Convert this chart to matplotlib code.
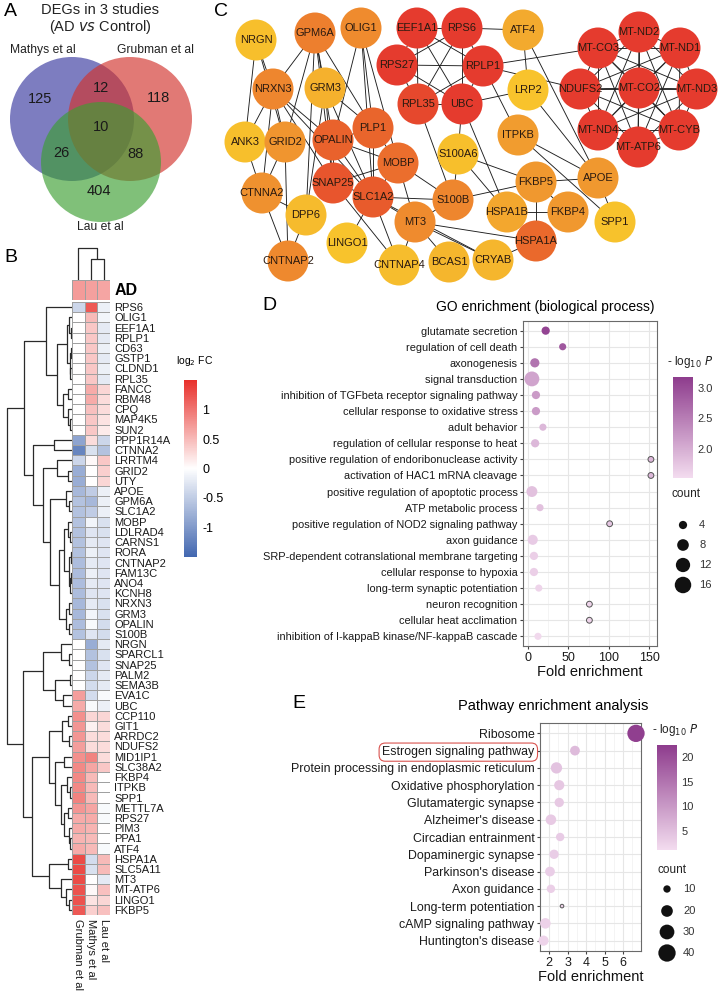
import numpy as np
import matplotlib
matplotlib.use("Agg")
import matplotlib.pyplot as plt
from matplotlib.patches import Circle
from matplotlib.colors import LinearSegmentedColormap, Normalize
from matplotlib.cm import ScalarMappable
from matplotlib.ticker import MultipleLocator

plt.rcParams['font.family'] = ['Liberation Sans', 'DejaVu Sans']

W, H = 719, 992

# ---------------- data ----------------
# A: Venn counts
venn_sets = ['Mathys et al', 'Grubman et al', 'Lau et al']
venn_counts = {'M': 125, 'G': 118, 'L': 404, 'MG': 12, 'ML': 26, 'GL': 88, 'MGL': 10}

# B: heatmap (log2 FC)
studies = ['Grubman et al', 'Mathys et al', 'Lau et al']
genes = ['RPS6', 'OLIG1', 'EEF1A1', 'RPLP1', 'CD63', 'GSTP1', 'CLDND1', 'RPL35', 'FANCC',
         'RBM48', 'CPQ', 'MAP4K5', 'SUN2', 'PPP1R14A', 'CTNNA2', 'LRRTM4', 'GRID2', 'UTY',
         'APOE', 'GPM6A', 'SLC1A2', 'MOBP', 'LDLRAD4', 'CARNS1', 'RORA', 'CNTNAP2', 'FAM13C',
         'ANO4', 'KCNH8', 'NRXN3', 'GRM3', 'OPALIN', 'S100B', 'NRGN', 'SPARCL1', 'SNAP25',
         'PALM2', 'SEMA3B', 'EVA1C', 'UBC', 'CCP110', 'GIT1', 'ARRDC2', 'NDUFS2', 'MID1IP1',
         'SLC38A2', 'FKBP4', 'ITPKB', 'SPP1', 'METTL7A', 'RPS27', 'PIM3', 'PPA1', 'ATF4',
         'HSPA1A', 'SLC5A11', 'MT3', 'MT-ATP6', 'LINGO1', 'FKBP5']
grubman_fc = [-0.4, 0, 0, 0, 0, 0, 0, 0, 0, 0, 0, 0, 0, -0.9, -1.2, -0.4, -0.8, -0.8,
              -0.7, -0.6, -0.6, -0.6, -0.6, -0.6, -0.6, -0.65, -0.65, -0.65, -0.65, -0.7, -0.7, -0.65, -0.6,
              0, 0, 0, 0, 0, 0.7, 0.6, 0.8, 0.75, 0.75, 0.7, 0.8, 0.85, 0.85, 0.85, 0.9, 0.75,
              0.6, 0.6, 0.55, 0.6, 1.3, 1.3, 1.3, 1.25, 1.25, 1.2]
mathys_fc = [1.2, 0.5, 0.4, 0.4, 0.4, 0.4, 0.4, 0.4, 0.6, 0.6, 0.45, 0.4, 0.4, 0.25, -0.3, 0.05, 0, 0,
             -0.5, -0.7, -0.5, -0.1, -0.25, -0.2, -0.15, -0.2, -0.15, -0.2, -0.25, -0.2, -0.1, -0.05, -0.25,
             -0.8, -0.6, -0.6, -0.4, -0.35, -0.35, -0.05, 0.3, 0.1, 0.25, 0.25, 0.9, 0.65, 0.5, 0.5, 0.5, 0.65,
             0.6, 0.55, 0.5, 0.5, -0.35, -0.3, 0, 0.05, 0.2, 0.35]
lau_fc = [-0.15, -0.1, -0.2, -0.2, -0.15, -0.2, -0.15, -0.2, 0.3, 0.25, 0.25, 0.2, 0.15, -0.4, -0.6, 0.4, 0.35, 0.3,
          -0.15, -0.15, -0.15, -0.3, -0.3, -0.25, -0.25, -0.25, -0.25, -0.25, -0.25, -0.3, -0.3, -0.35, -0.35,
          -0.2, -0.3, -0.25, -0.2, -0.2, -0.05, -0.15, 0.3, 0.25, 0.25, 0.25, 0.25, 0.4, 0, 0, 0, -0.05,
          -0.05, 0, 0, -0.05, 0.5, 0.5, -0.2, 0.45, 0.3, 0.45]
ad_fc = [0.72, 0.68, 0.65]

# row dendrogram as nested (left, right, height); leaves are row indices
row_tree = (
    ((0, ((((1, (2, 3, 1.5), 3), ((4, 5, 1.5), (6, 7, 2), 2.5), 5),
           ((8, 9, 4), (10, (11, 12, 2), 4), 9), 15)), 26),
     ((13, 14, 18),
      ((15, (16, 17, 4), 15),
       ((18, (19, 20, 3), 6),
        (((21, (22, 23, 2), 4), ((24, 25, 1.5), ((26, 27, 1), 28, 2.5), 3.5), 8),
         ((29, 30, 3), (31, 32, 3), 6), 13), 22), 29), 39), 48),
    (((33, (34, 35, 3), 11), ((36, 37, 2), (38, 39, 9), 17), 29),
     ((((40, 41, 4), (42, 43, 3), 10),
       ((44, 45, 8), ((46, (47, 48, 2), 5), ((49, 50, 4), (51, (52, 53, 2), 3), 8), 11), 17), 23),
      ((54, 55, 4), (56, (57, (58, 59, 3), 6), 11), 23), 40), 49),
    65)
col_tree = (0, (1, 2, 21), 32)

# C: network
net_nodes = ['NRGN', 'GPM6A', 'OLIG1', 'EEF1A1', 'RPS6', 'ATF4', 'MT-ND2', 'MT-CO3', 'MT-ND1',
             'RPS27', 'RPLP1', 'NRXN3', 'GRM3', 'LRP2', 'NDUFS2', 'MT-CO2', 'MT-ND3', 'RPL35',
             'UBC', 'ANK3', 'GRID2', 'OPALIN', 'PLP1', 'ITPKB', 'MT-ND4', 'MT-CYB', 'MT-ATP6',
             'S100A6', 'MOBP', 'CTNNA2', 'SNAP25', 'SLC1A2', 'S100B', 'FKBP5', 'APOE', 'DPP6',
             'MT3', 'HSPA1B', 'FKBP4', 'SPP1', 'LINGO1', 'HSPA1A', 'CNTNAP2', 'CNTNAP4', 'BCAS1',
             'CRYAB']
net_score = [0.05, 0.5, 0.42, 1, 1, 0.2, 1, 1, 1,
             1, 1, 0.45, 0.15, 0.02, 1, 1, 1, 0.9,
             1, 0.05, 0.35, 0.7, 0.68, 0.3, 1, 1, 1,
             0.05, 0.62, 0.38, 0.8, 0.75, 0.45, 0.33, 0.33, 0.08,
             0.42, 0.22, 0.33, 0.03, 0.02, 0.65, 0.43, 0.07, 0.12,
             0.12]
mt_group = ['MT-ND2', 'MT-CO3', 'MT-ND1', 'NDUFS2', 'MT-CO2', 'MT-ND3', 'MT-ND4', 'MT-CYB', 'MT-ATP6']
ribo_group = ['EEF1A1', 'RPS6', 'RPS27', 'RPLP1', 'RPL35', 'UBC']
net_edges = [('RPS6', 'ATF4'), ('RPLP1', 'MT-CO3'), ('RPLP1', 'NDUFS2'), ('RPLP1', 'ITPKB'),
             ('UBC', 'LRP2'), ('ATF4', 'LRP2'), ('ATF4', 'APOE'), ('LRP2', 'APOE'), ('ITPKB', 'APOE'),
             ('ITPKB', 'SPP1'), ('APOE', 'SPP1'), ('APOE', 'FKBP5'), ('FKBP5', 'S100A6'),
             ('FKBP5', 'FKBP4'), ('FKBP5', 'HSPA1A'), ('FKBP5', 'S100B'), ('HSPA1B', 'FKBP4'),
             ('HSPA1A', 'CRYAB'), ('UBC', 'HSPA1B'), ('UBC', 'S100A6'), ('RPL35', 'S100B'),
             ('S100A6', 'S100B'), ('S100A6', 'HSPA1B'), ('S100B', 'SLC1A2'), ('S100B', 'MT3'),
             ('S100B', 'MOBP'), ('MT3', 'HSPA1A'), ('MT3', 'CRYAB'), ('MT3', 'BCAS1'), ('MT3', 'SLC1A2'),
             ('MT3', 'CNTNAP4'), ('MT3', 'MOBP'), ('SLC1A2', 'CNTNAP4'), ('SLC1A2', 'LINGO1'),
             ('SLC1A2', 'SNAP25'), ('SLC1A2', 'OPALIN'), ('SLC1A2', 'PLP1'), ('SLC1A2', 'GRM3'),
             ('SLC1A2', 'MOBP'), ('SLC1A2', 'OLIG1'), ('SLC1A2', 'CRYAB'), ('SNAP25', 'OPALIN'),
             ('SNAP25', 'GRM3'), ('SNAP25', 'NRXN3'), ('SNAP25', 'MOBP'), ('SNAP25', 'GPM6A'),
             ('PLP1', 'MOBP'), ('PLP1', 'OLIG1'), ('PLP1', 'GPM6A'), ('PLP1', 'OPALIN'), ('PLP1', 'GRM3'),
             ('OLIG1', 'OPALIN'), ('OLIG1', 'MOBP'), ('GPM6A', 'NRXN3'), ('GPM6A', 'GRM3'),
             ('GPM6A', 'OPALIN'), ('GPM6A', 'GRID2'), ('GPM6A', 'DPP6'), ('NRGN', 'NRXN3'),
             ('NRGN', 'ANK3'), ('NRGN', 'GRID2'), ('NRXN3', 'GRID2'), ('NRXN3', 'CTNNA2'),
             ('NRXN3', 'ANK3'), ('NRXN3', 'OPALIN'), ('NRXN3', 'SLC1A2'), ('GRM3', 'DPP6'),
             ('GRID2', 'CTNNA2'), ('GRID2', 'CNTNAP2'), ('GRID2', 'ANK3'), ('ANK3', 'CTNNA2'),
             ('CTNNA2', 'CNTNAP2'), ('CTNNA2', 'DPP6'), ('DPP6', 'CNTNAP2'), ('OPALIN', 'MOBP'),
             ('CNTNAP4', 'SNAP25')]

# D: GO enrichment
go_terms = ['glutamate secretion', 'regulation of cell death', 'axonogenesis', 'signal transduction',
            'inhibition of TGFbeta receptor signaling pathway', 'cellular response to oxidative stress',
            'adult behavior', 'regulation of cellular response to heat',
            'positive regulation of endoribonuclease activity', 'activation of HAC1 mRNA cleavage',
            'positive regulation of apoptotic process', 'ATP metabolic process',
            'positive regulation of NOD2 signaling pathway', 'axon guidance',
            'SRP-dependent cotranslational membrane targeting', 'cellular response to hypoxia',
            'long-term synaptic potentiation', 'neuron recognition', 'cellular heat acclimation',
            'inhibition of I-kappaB kinase/NF-kappaB cascade']
go_fold = [22, 43, 8.6, 5, 10, 10, 18.6, 9, 152, 152, 5, 15, 101, 6, 7.5, 7.5, 13.5, 76, 76, 12.5]
go_count = [4, 3, 5, 13, 4, 4, 3, 4, 2, 2, 7, 3, 2, 6, 4, 4, 3, 2, 2, 3]
go_logp = [3.1, 2.9, 2.6, 2.1, 2.2, 2.2, 1.9, 1.9, 1.9, 1.9, 1.8, 1.8, 1.75, 1.7, 1.65, 1.65,
           1.6, 1.6, 1.6, 1.55]

# E: pathway enrichment
kegg_terms = ['Ribosome', 'Estrogen signaling pathway', 'Protein processing in endoplasmic reticulum',
              'Oxidative phosphorylation', 'Glutamatergic synapse', "Alzheimer's disease",
              'Circadian entrainment', 'Dopaminergic synapse', "Parkinson's disease", 'Axon guidance',
              'Long-term potentiation', 'cAMP signaling pathway', "Huntington's disease"]
kegg_fold = [6.7, 3.4, 2.4, 2.55, 2.55, 2.1, 2.6, 2.27, 2.05, 2.1, 2.7, 1.8, 1.7]
kegg_count = [40, 15, 19, 16, 14, 17, 12, 14, 15, 12, 5, 17, 16]
kegg_logp = [22, 5.5, 4.5, 4.0, 3.8, 3.5, 3.4, 3.2, 3.0, 2.9, 2.7, 2.5, 2.3]

# ---------------- figure ----------------
fig = plt.figure(figsize=(W / 100, H / 100), dpi=100)


def px_axes(l, t, w, h):
    return fig.add_axes([l / W, 1 - (t + h) / H, w / W, h / H])


ov = px_axes(0, 0, W, H)
ov.set_xlim(0, W)
ov.set_ylim(H, 0)
ov.axis('off')
ov.set_zorder(10)
ov.patch.set_visible(False)

for lab, x, y in [('A', 4, 12), ('B', 4, 258), ('C', 214, 11), ('D', 262, 305), ('E', 292, 703)]:
    ov.text(x, y, lab, fontsize=14, va='center', ha='left')

# ---- A: Venn ----
ax = px_axes(0, 0, 240, 240)
ax.set_xlim(0, 240)
ax.set_ylim(240, 0)
ax.axis('off')
venn_circ = [((72, 119), 62, (0.215, 0.215, 0.62)),
             ((130, 119), 62, (0.825, 0.197, 0.174)),
             ((101, 162), 60, (0.234, 0.62, 0.197))]
for (c, r, col) in venn_circ:
    ax.add_patch(Circle(c, r, fc=col, ec='none', alpha=0.65))
venn_txt = {'M': (40, 99), 'MG': (101, 88), 'G': (159, 98), 'MGL': (101, 127),
            'ML': (61, 153), 'GL': (136, 154), 'L': (99, 191)}
for k, (x, y) in venn_txt.items():
    ax.text(x, y, str(venn_counts[k]), ha='center', va='center', fontsize=10.5, color='#1a1a1a')
ax.text(43, 50, venn_sets[0], ha='center', va='center', fontsize=8.7, color='#222')
ax.text(155, 50, venn_sets[1], ha='center', va='center', fontsize=8.7, color='#222')
ax.text(100, 227, venn_sets[2], ha='center', va='center', fontsize=8.7, color='#222')
ov.text(100, 10, 'DEGs in 3 studies', ha='center', va='center', fontsize=10.5, color='#222')
ov.text(100, 27, r'(AD $\mathit{vs}$ Control)', ha='center', va='center', fontsize=10.5, color='#222')

# ---- B: heatmap ----
hm_cmap = LinearSegmentedColormap.from_list('fc', ['#4267b0', '#ffffff', '#e8302b'])
data = np.column_stack([grubman_fc, mathys_fc, lau_fc])
ax = px_axes(72, 302, 38, 613)
ax.pcolormesh(np.arange(4), np.arange(len(genes) + 1), data, cmap=hm_cmap, vmin=-1.5, vmax=1.5,
              edgecolors='#a0a0a0', linewidth=0.5)
ax.set_xlim(0, 3)
ax.set_ylim(len(genes), 0)
for s in ax.spines.values():
    s.set_visible(False)
ax.yaxis.tick_right()
ax.set_yticks(np.arange(len(genes)) + 0.5, genes)
ax.set_xticks(np.arange(3) + 0.5, studies, rotation=-90)
ax.tick_params(length=0, labelsize=8, pad=3, labelcolor='#1a1a1a')

ax = px_axes(72, 280, 38, 20)
ax.pcolormesh(np.arange(4), np.arange(2), np.array([ad_fc]), cmap=hm_cmap, vmin=-1.5, vmax=1.5,
              edgecolors='#a0a0a0', linewidth=0.5)
ax.axis('off')
ax.text(3.4, 0.5, 'AD', fontsize=11.5, fontweight='bold', va='center', ha='left')


def draw_tree(ax, node, orient):
    if isinstance(node, int):
        return node + 0.5, 0.0
    a, b, h = node
    ya, ha = draw_tree(ax, a, orient)
    yb, hb = draw_tree(ax, b, orient)
    if orient == 'row':
        ax.plot([ha, h, h, hb], [ya, ya, yb, yb], color='#2a2a2a', lw=0.9, solid_capstyle='butt')
    else:
        ax.plot([ya, ya, yb, yb], [ha, h, h, hb], color='#2a2a2a', lw=0.9, solid_capstyle='butt')
    return (ya + yb) / 2, h


ax = px_axes(4, 302, 68, 613)
draw_tree(ax, row_tree, 'row')
ax.set_xlim(68, 0)
ax.set_ylim(len(genes), 0)
ax.axis('off')

ax = px_axes(72, 245, 38, 35)
draw_tree(ax, col_tree, 'col')
ax.set_xlim(0, 3)
ax.set_ylim(0, 35)
ax.axis('off')

cax = px_axes(184, 380, 13, 177)
cb = fig.colorbar(ScalarMappable(Normalize(-1.5, 1.5), hm_cmap), cax=cax)
cb.outline.set_visible(False)
cb.set_ticks([-1, -0.5, 0, 0.5, 1], labels=['-1', '-0.5', '0', '0.5', '1'])
cax.tick_params(length=0, labelsize=9, pad=4)
ov.text(176, 361, r'log$_2$ FC', fontsize=7.5, ha='left', va='center')

# ---- C: network ----
node_xy = {'NRGN': (256, 40), 'GPM6A': (315, 33), 'OLIG1': (361, 28), 'EEF1A1': (417, 28),
           'RPS6': (462, 28), 'ATF4': (523, 30), 'MT-ND2': (639, 32), 'MT-CO3': (598, 48),
           'MT-ND1': (680, 48), 'RPS27': (397, 65), 'RPLP1': (483, 66), 'NRXN3': (273, 89),
           'GRM3': (325, 88), 'LRP2': (528, 90), 'NDUFS2': (580, 89), 'MT-CO2': (639, 88),
           'MT-ND3': (697, 89), 'RPL35': (418, 104), 'UBC': (462, 104), 'ANK3': (245, 142),
           'GRID2': (285, 142), 'OPALIN': (333, 140), 'PLP1': (373, 128), 'ITPKB': (518, 135),
           'MT-ND4': (598, 130), 'MT-CYB': (679, 130), 'MT-ATP6': (638, 147), 'S100A6': (458, 154),
           'MOBP': (398, 163), 'CTNNA2': (262, 193), 'SNAP25': (333, 183), 'SLC1A2': (373, 197),
           'S100B': (453, 200), 'FKBP5': (536, 182), 'APOE': (598, 178), 'DPP6': (306, 215),
           'MT3': (415, 222), 'HSPA1B': (507, 212), 'FKBP4': (568, 212), 'SPP1': (615, 222),
           'LINGO1': (347, 243), 'HSPA1A': (536, 241), 'CNTNAP2': (288, 261), 'CNTNAP4': (399, 265),
           'BCAS1': (449, 262), 'CRYAB': (493, 260)}
edges = list(net_edges)
for grp in (mt_group, ribo_group):
    for i in range(len(grp)):
        for j in range(i + 1, len(grp)):
            edges.append((grp[i], grp[j]))
net_cmap = LinearSegmentedColormap.from_list(
    'deg', [(0, '#f8c62c'), (0.35, '#f0952f'), (0.7, '#e9622c'), (1, '#e53b2e')])
ax = px_axes(222, 0, 497, 290)
ax.set_xlim(222, 719)
ax.set_ylim(290, 0)
ax.axis('off')
for a, b in edges:
    (x1, y1), (x2, y2) = node_xy[a], node_xy[b]
    ax.plot([x1, x2], [y1, y2], color='#1e1e1e', lw=0.65, zorder=1)
for name, sc in zip(net_nodes, net_score):
    x, y = node_xy[name]
    ax.add_patch(Circle((x, y), 20.5, fc=net_cmap(float(sc)), ec='none', zorder=2))
    ax.text(x, y, name, ha='center', va='center', fontsize=8, color='#2a1a10', zorder=3)

# ---- D / E dot plots ----
dot_cmap = LinearSegmentedColormap.from_list('p', ['#f3dcef', '#8e3c8d'])


def dotplot(ax, terms, fold, count, logp, vmin, vmax, size_fn, xlim, major, minor, fs):
    n = len(terms)
    ec = ['#555555' if size_fn(c) < 20 else 'none' for c in count]
    ax.scatter(fold, np.arange(n), s=[size_fn(c) for c in count], c=logp, cmap=dot_cmap,
               vmin=vmin, vmax=vmax, edgecolors=ec, linewidths=0.7, zorder=3, clip_on=False)
    ax.set_ylim(n - 0.4, -0.6)
    ax.set_xlim(*xlim)
    ax.set_yticks(np.arange(n), terms)
    ax.xaxis.set_major_locator(MultipleLocator(major))
    ax.xaxis.set_minor_locator(MultipleLocator(minor))
    ax.grid(True, which='major', color='#e6e6e6', lw=0.8)
    ax.grid(True, which='minor', axis='x', color='#f0f0f0', lw=0.5)
    ax.set_axisbelow(True)
    for s in ax.spines.values():
        s.set_color('#6a6a6a')
        s.set_linewidth(0.8)
    ax.tick_params(which='major', length=2.5, color='#444', labelsize=fs, labelcolor='#1a1a1a', pad=1.5)
    ax.tick_params(axis='x', labelsize=9, pad=1.5)
    ax.tick_params(which='minor', length=0)
    ax.set_xlabel('Fold enrichment', fontsize=10.5, labelpad=1, color='#111')


# D
ax = px_axes(523, 321, 134, 325)
dotplot(ax, go_terms, go_fold, go_count, go_logp, 1.52, 3.18, lambda c: 8.8 * c,
        (-6, 159.5), 50, 25, 7.95)
ov.text(545, 307, 'GO enrichment (biological process)', ha='center', va='center', fontsize=10)
cax = px_axes(673, 377, 20, 101)
cb = fig.colorbar(ScalarMappable(Normalize(1.52, 3.18), dot_cmap), cax=cax)
cb.outline.set_visible(False)
cb.set_ticks([2.0, 2.5, 3.0], labels=['2.0', '2.5', '3.0'])
cax.tick_params(length=0, labelsize=8, pad=3, labelcolor='#333')
ov.text(667, 362, r'- log$_{10}$ $\mathit{P}$', fontsize=8.5, ha='left', va='center', color='#222')
ov.text(671, 494, 'count', fontsize=8.5, ha='left', va='center', color='#222')
for c, y in zip([4, 8, 12, 16], [525, 545, 565, 585]):
    ov.scatter([683], [y], s=8.8 * c, color='#111', edgecolors='none')
    ov.text(699, y, str(c), fontsize=8, ha='left', va='center', color='#333')

# E
ax = px_axes(540, 723, 101, 228)
dotplot(ax, kegg_terms, kegg_fold, kegg_count, kegg_logp, 1.15, 22.4,
        lambda c: 0.518 * (8.2 * c - 28), (1.51, 6.97), 1, 0.5, 8.9)
lab = ax.get_yticklabels()[1]
lab.set_bbox(dict(boxstyle='round,pad=0.25,rounding_size=0.5', fc='none', ec='#d9534f', lw=0.8))
ov.text(553, 706, 'Pathway enrichment analysis', ha='center', va='center', fontsize=10.5)
cax = px_axes(657, 745, 20, 105)
cb = fig.colorbar(ScalarMappable(Normalize(1.15, 22.4), dot_cmap), cax=cax)
cb.outline.set_visible(False)
cb.set_ticks([5, 10, 15, 20])
cax.tick_params(length=0, labelsize=8, pad=3, labelcolor='#333')
ov.text(652, 730, r'- log$_{10}$ $\mathit{P}$', fontsize=8.5, ha='left', va='center', color='#222')
ov.text(657, 870, 'count', fontsize=8.5, ha='left', va='center', color='#222')
for c, y in zip([10, 20, 30, 40], [889, 911, 932, 953]):
    ov.scatter([667], [y], s=0.518 * (8.2 * c - 28), color='#111', edgecolors='none')
    ov.text(683, y, str(c), fontsize=8, ha='left', va='center', color='#333')

fig.savefig('out.png', dpi=100)
